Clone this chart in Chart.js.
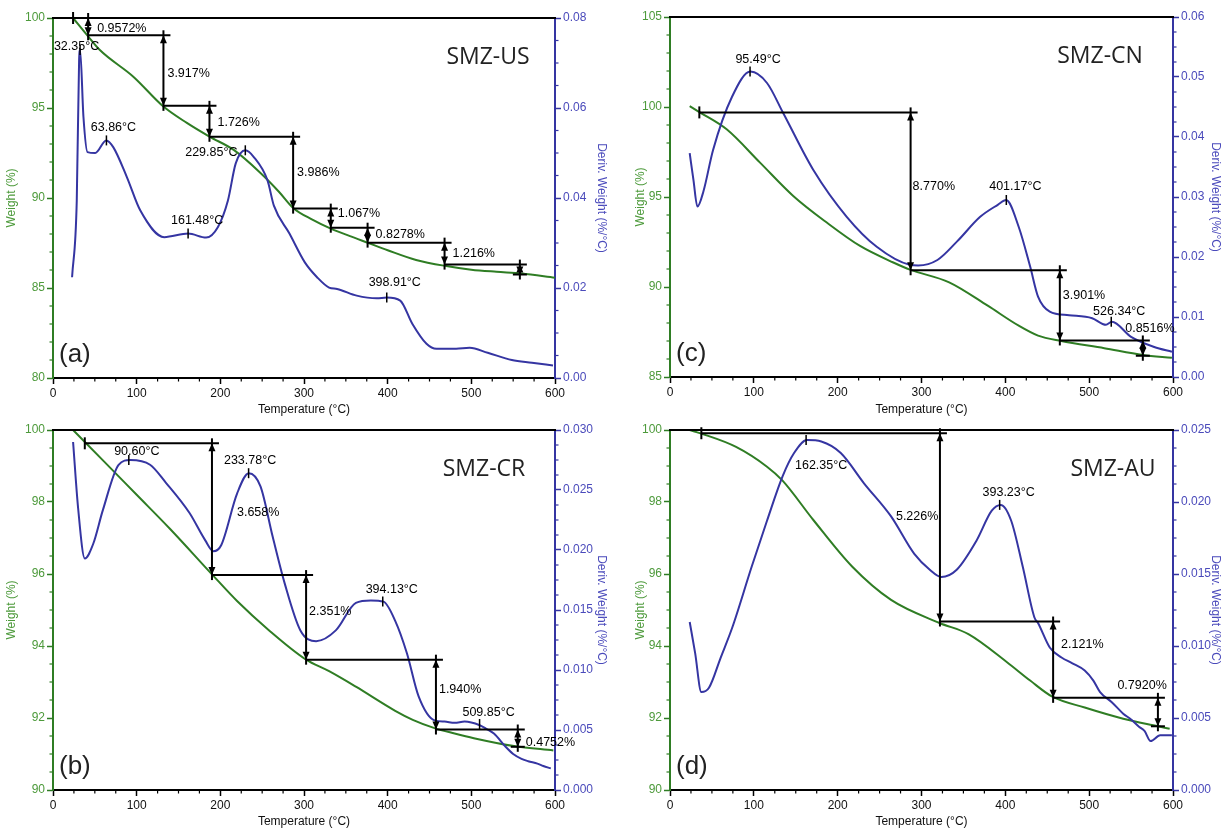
<!DOCTYPE html>
<html>
<head>
<meta charset="utf-8">
<title>TGA / DTG - SMZ samples</title>
<script src="https://cdn.jsdelivr.net/npm/chart.js@4.4.0/dist/chart.umd.min.js"></script>
<style>
  html, body { margin: 0; padding: 0; background: #fff; }
  #wrap { position: relative; width: 1227px; height: 831px; overflow: hidden; background: #fff; }
  #wrap canvas { position: absolute; }
</style>
</head>
<body>
<div id="wrap">
  <canvas id="panelA" width="613" height="417" style="left:0px;top:0px"></canvas>
  <canvas id="panelC" width="614" height="417" style="left:613px;top:0px"></canvas>
  <canvas id="panelB" width="613" height="414" style="left:0px;top:417px"></canvas>
  <canvas id="panelD" width="614" height="414" style="left:613px;top:417px"></canvas>
</div>
<script>
// TGA (weight) + DTG (derivative weight) curves for four SMZ samples

// ---- (a) SMZ-US
const usWeightT = [24, 42, 56, 96, 132, 160, 187, 216, 248, 270, 287, 310, 332, 355, 377, 400, 434, 470, 500, 530, 560, 600];
const usWeight  = [100, 98.98, 98.22, 96.74, 95.08, 94.17, 93.41, 92.67, 91.39, 90.35, 89.45, 88.8, 88.3, 87.88, 87.5, 87.1, 86.56, 86.22, 86.02, 85.9, 85.8, 85.57];
const usDerivT  = [22.8, 28.4, 31.2, 32.4, 36.4, 41.2, 50.4, 63.6, 72, 88.4, 104.4, 133, 161.6, 183, 197, 209, 218.4, 230, 240, 256.4, 264, 282.6, 301, 315.6, 330, 339.6, 363, 387, 399, 415, 429.6, 446.4, 458.4, 481.8, 498, 519.6, 548.4, 572.4, 597.6];
const usDeriv   = [0.0224, 0.0394, 0.0706, 0.0729, 0.058, 0.0502, 0.05, 0.0528, 0.0513, 0.0446, 0.0372, 0.0313, 0.0321, 0.0312, 0.0335, 0.0394, 0.0477, 0.0506, 0.0491, 0.0439, 0.0383, 0.0321, 0.0257, 0.0224, 0.0201, 0.0198, 0.0183, 0.0177, 0.0179, 0.0172, 0.012, 0.0076, 0.0065, 0.0065, 0.0067, 0.0056, 0.004, 0.0034, 0.0028];
const usStepT   = [24, 42, 132, 187, 287, 332, 376, 468, 558];
const usStepW   = [100, 99.04, 95.12, 93.40, 89.41, 88.35, 87.52, 86.30, 85.75];
const usLoss    = [0.9572, 3.917, 1.726, 3.986, 1.067, 0.8278, 1.216];
const usPeakT   = [32.35, 63.86, 161.48, 229.85, 398.91];
const usPeakD   = [0.0729, 0.0528, 0.0321, 0.0506, 0.0179];

// ---- (b) SMZ-CR
const crWeightT = [24, 60, 100, 140, 190, 220, 258, 302, 330, 362, 409, 430, 456, 480, 503, 551, 598];
const crWeight  = [100, 99.15, 98.2, 97.25, 95.99, 95.25, 94.44, 93.63, 93.3, 92.87, 92.2, 91.95, 91.72, 91.57, 91.44, 91.22, 91.1];
const crDerivT  = [24, 30, 38, 48, 59.5, 78.4, 92.5, 116, 135, 163, 182, 191.7, 201, 220, 234, 248, 262.6, 277, 295.7, 314.5, 338, 362, 380, 395, 409, 423, 437, 456, 468, 480, 492, 510, 518, 527, 541, 550, 560, 568, 579, 586, 595];
const crDeriv   = [0.029, 0.0235, 0.0193, 0.0205, 0.0233, 0.0271, 0.0275, 0.0271, 0.0256, 0.0231, 0.0208, 0.0199, 0.0204, 0.0247, 0.0264, 0.0253, 0.0211, 0.0172, 0.0133, 0.0124, 0.0133, 0.0156, 0.0158, 0.0157, 0.0141, 0.0114, 0.0078, 0.0058, 0.0057, 0.0056, 0.0057, 0.0054, 0.0051, 0.0047, 0.0036, 0.003, 0.0026, 0.0024, 0.0022, 0.002, 0.0018];
const crStepT   = [38, 190, 302.5, 457.7, 555.5];
const crStepW   = [99.63, 95.97, 93.62, 91.68, 91.2];
const crLoss    = [3.658, 2.351, 1.940, 0.4752];
const crPeakT   = [90.60, 233.78, 394.13, 509.85];
const crPeakD   = [0.0275, 0.0264, 0.0157, 0.0055];

// ---- (c) SMZ-CN
const cnWeightT = [23.5, 35, 67.6, 107.4, 147, 187, 226.7, 266.4, 287, 333, 379, 416, 439, 466.6, 518, 564, 598.7];
const cnWeight  = [100.05, 99.72, 98.76, 96.91, 95.06, 93.58, 92.28, 91.36, 90.95, 90.26, 88.96, 87.85, 87.3, 87.0, 86.6, 86.22, 86.07];
const cnDerivT  = [23.5, 28, 32.7, 40, 51.3, 74, 96, 115.7, 135, 171, 210.8, 246.6, 286, 296, 319, 342.5, 370, 391, 401, 416, 429.6, 439, 453, 476, 503.6, 520, 527, 550, 577.6, 598.7];
const cnDeriv   = [0.0373, 0.0328, 0.0284, 0.031, 0.0378, 0.0467, 0.0509, 0.049, 0.044, 0.0345, 0.0267, 0.0217, 0.0187, 0.0186, 0.0195, 0.0226, 0.0267, 0.0287, 0.0295, 0.025, 0.0184, 0.0134, 0.0109, 0.0103, 0.0098, 0.0087, 0.0092, 0.0067, 0.005, 0.0042];
const cnStepT   = [35, 287, 465, 564];
const cnStepW   = [99.7, 90.93, 87.03, 86.18];
const cnLoss    = [8.770, 3.901, 0.8516];
const cnPeakT   = [95.49, 401.17, 526.34];
const cnPeakD   = [0.0509, 0.0295, 0.0092];

// ---- (d) SMZ-AU
const auWeightT = [23.5, 37.4, 78.8, 115.7, 134, 171, 217.5, 263.7, 321.5, 356, 402, 429.6, 455.5, 494.7, 540.6, 582, 596];
const auWeight  = [100, 99.9, 99.53, 98.98, 98.6, 97.5, 96.2, 95.28, 94.64, 94.33, 93.55, 93.04, 92.6, 92.29, 91.98, 91.77, 91.7];
const auDerivT  = [23.5, 30, 37.4, 46.5, 60.5, 74.4, 97.4, 115.7, 134.4, 148, 163.5, 180.5, 203.7, 231.4, 263.7, 291.4, 309.9, 323.7, 342, 365.4, 383.8, 394.5, 407, 420.8, 434.6, 439, 453, 467, 480, 494.7, 505, 513, 527, 540.6, 550, 559.4, 566, 573.3, 584.7, 598.7];
const auDeriv   = [0.01167, 0.0095, 0.0068, 0.0071, 0.0092, 0.0113, 0.0155, 0.0187, 0.0218, 0.0234, 0.0243, 0.0242, 0.0234, 0.0213, 0.019, 0.0164, 0.0153, 0.0148, 0.0153, 0.0173, 0.0194, 0.0198, 0.0187, 0.0155, 0.012, 0.0116, 0.0099, 0.0092, 0.0088, 0.0083, 0.0076, 0.0068, 0.0061, 0.0053, 0.0049, 0.0044, 0.0041, 0.0034, 0.0038, 0.0038];
const auStepT   = [37.4, 322, 457, 582];
const auStepW   = [99.91, 94.68, 92.56, 91.77];
const auLoss    = [5.226, 2.121, 0.7920];
const auPeakT   = [162.35, 393.23];
const auPeakD   = [0.0243, 0.0198];

// colours / fonts
const GREEN = '#2f7d24';
const GREEN_TXT = '#4d9a3b';
const BLUE = '#3535a2';
const BLUE_TXT = '#4a4abb';
const FONT = '"Liberation Sans", Arial, Helvetica, sans-serif';

function pts(xs, ys) {
    return xs.map((x, i) => ({ x: x, y: ys[i] }));
}

function seg(ctx, x1, y1, x2, y2) {
    ctx.beginPath();
    ctx.moveTo(x1, y1);
    ctx.lineTo(x2, y2);
    ctx.stroke();
}

// dir -1 = pointing up, 1 = pointing down
function head(ctx, x, y, dir) {
    ctx.beginPath();
    ctx.moveTo(x, y);
    ctx.lineTo(x - 3.5, y - dir * 8);
    ctx.lineTo(x + 3.5, y - dir * 8);
    ctx.closePath();
    ctx.fill();
}

function minorTicks(min, max, minor, major, cb) {
    const n = Math.round((max - min) / minor);
    const every = Math.round(major / minor);
    for (let i = 0; i <= n; i++) {
        if (i % every === 0) continue;
        cb(min + i * minor);
    }
}

// frame line, minor ticks, step arrows, peak markers, captions
function tgaOverlay(p) {
    return {
        id: 'tgaOverlay',
        afterDatasetsDraw(chart) {
            const ctx = chart.ctx, a = chart.chartArea;
            const sx = chart.scales.x, sy = chart.scales.y, sd = chart.scales.y1;
            const X = t => sx.getPixelForValue(t);
            const Y = w => sy.getPixelForValue(w);
            ctx.save();

            // top frame
            ctx.strokeStyle = '#000';
            ctx.lineWidth = 2;
            seg(ctx, a.left - 1, a.top, a.right + 1, a.top);

            // minor ticks
            ctx.lineWidth = 1.2;
            minorTicks(0, 600, 25, 100, v => seg(ctx, X(v), a.bottom, X(v), a.bottom + 3.5));
            ctx.strokeStyle = GREEN;
            minorTicks(p.wMin, p.wMax, p.wMinor, p.wStep, v => seg(ctx, a.left - 3.5, Y(v), a.left, Y(v)));
            ctx.strokeStyle = BLUE;
            minorTicks(0, p.dMax, p.dMinor, p.dStep, v => {
                const y = sd.getPixelForValue(v);
                seg(ctx, a.right, y, a.right + 3.5, y);
            });

            // weight-loss steps
            ctx.strokeStyle = '#000';
            ctx.fillStyle = '#000';
            ctx.lineWidth = 2;
            ctx.font = '12.5px ' + FONT;
            ctx.textAlign = 'left';
            ctx.textBaseline = 'middle';
            const T = p.stepT, W = p.stepW;
            seg(ctx, X(T[0]), Y(W[0]) - 6, X(T[0]), Y(W[0]) + 6);
            for (let i = 1; i < T.length; i++) {
                const xa = X(T[i - 1]), xb = X(T[i]);
                const y0 = Y(W[i - 1]), y1 = Y(W[i]);
                seg(ctx, xa, y0, xb + 7, y0);
                seg(ctx, xb, y0 - 5, xb, y1 + 5);
                head(ctx, xb, y0, -1);
                head(ctx, xb, y1, 1);
                if (i === T.length - 1) seg(ctx, xb - 7, y1, xb + 7, y1);
                const loss = p.loss[i - 1];
                if (loss !== undefined) {
                    const off = p.lossOff[i - 1];
                    ctx.fillText(loss.toPrecision(4) + '%', xb + off[0], (y0 + y1) / 2 + off[1]);
                }
            }

            // DTG peak markers
            ctx.lineWidth = 1.5;
            ctx.textAlign = 'center';
            p.peakT.forEach((t, k) => {
                const px = X(t), py = sd.getPixelForValue(p.peakD[k]);
                seg(ctx, px, py - 5, px, py + 5);
                const off = p.peakOff[k];
                ctx.fillText(t.toFixed(2) + '°C', px + off[0], py + off[1]);
            });

            // sample name + panel letter
            ctx.fillStyle = '#222';
            ctx.font = '23px "Open Sans", "Noto Sans", sans-serif';
            ctx.fillText(p.name, a.right - p.nameDx, a.top + 39);
            ctx.textAlign = 'left';
            ctx.font = '26px ' + FONT;
            ctx.fillText(p.letter, a.left + 6, a.bottom - 23);
            ctx.restore();
        }
    };
}

function makePanel(id, p) {
    const tickFont = { family: FONT, size: 12 };
    return new Chart(document.getElementById(id), {
        type: 'line',
        data: {
            datasets: [
                { data: pts(p.derivT, p.deriv), yAxisID: 'y1', borderColor: BLUE, borderWidth: 2,
                  pointRadius: 0, cubicInterpolationMode: 'monotone', fill: false },
                { data: pts(p.weightT, p.weight), yAxisID: 'y', borderColor: GREEN, borderWidth: 2,
                  pointRadius: 0, cubicInterpolationMode: 'monotone', fill: false }
            ]
        },
        options: {
            responsive: false,
            animation: false,
            layout: { padding: { top: p.top, left: 0, right: 0, bottom: 0 } },
            plugins: { legend: { display: false }, tooltip: { enabled: false } },
            scales: {
                x: {
                    type: 'linear', min: 0, max: 600,
                    ticks: { stepSize: 100, color: '#111', font: tickFont, maxRotation: 0, padding: 2 },
                    grid: { drawOnChartArea: false, color: '#000', tickLength: 6, tickWidth: 1.5 },
                    border: { color: '#000', width: 2 },
                    title: { display: true, text: 'Temperature (°C)', color: '#111', font: tickFont,
                             padding: { top: 0, bottom: p.xTitlePad } },
                    afterFit: s => { s.height = p.xHeight; }
                },
                y: {
                    position: 'left', min: p.wMin, max: p.wMax,
                    ticks: { stepSize: p.wStep, color: GREEN_TXT, font: tickFont, padding: 2 },
                    grid: { drawOnChartArea: false, color: GREEN, tickLength: 6, tickWidth: 1.5 },
                    border: { color: GREEN, width: 2 },
                    title: { display: true, text: 'Weight (%)', color: GREEN_TXT, font: tickFont,
                             padding: { top: p.yTitlePad, bottom: 0 } },
                    afterFit: s => { s.width = p.leftW; }
                },
                y1: {
                    position: 'right', min: 0, max: p.dMax,
                    ticks: { stepSize: p.dStep, color: BLUE_TXT, font: tickFont, padding: 2,
                             callback: v => v.toFixed(p.dDec) },
                    grid: { drawOnChartArea: false, color: BLUE, tickLength: 6, tickWidth: 1.5 },
                    border: { color: BLUE, width: 2 },
                    title: { display: true, text: 'Deriv. Weight (%/°C)', color: BLUE_TXT, font: tickFont,
                             padding: { top: 4, bottom: 0 } },
                    afterFit: s => { s.width = p.rightW; }
                }
            }
        },
        plugins: [tgaOverlay(p)]
    });
}

makePanel('panelA', {
    name: 'SMZ-US', letter: '(a)', nameDx: 67,
    weightT: usWeightT, weight: usWeight, derivT: usDerivT, deriv: usDeriv,
    stepT: usStepT, stepW: usStepW, loss: usLoss, peakT: usPeakT, peakD: usPeakD,
    lossOff: [[9, 2], [4, 2.5], [8, 1], [4, 0], [7, -4.6], [8, -1], [8, 0]],
    peakOff: [[-3.5, -3], [7, -13], [9, -13], [-34, 2], [8, -15]],
    wMin: 80, wMax: 100, wStep: 5, wMinor: 1,
    dMax: 0.08, dStep: 0.02, dMinor: 0.005, dDec: 2,
    top: 18, xHeight: 39, leftW: 53, rightW: 58, xTitlePad: 0, yTitlePad: 4
});

makePanel('panelC', {
    name: 'SMZ-CN', letter: '(c)', nameDx: 73,
    weightT: cnWeightT, weight: cnWeight, derivT: cnDerivT, deriv: cnDeriv,
    stepT: cnStepT, stepW: cnStepW, loss: cnLoss, peakT: cnPeakT, peakD: cnPeakD,
    lossOff: [[2, -5], [3, -10], [-17.6, -20]],
    peakOff: [[8, -12], [9, -13], [8, -10]],
    wMin: 85, wMax: 105, wStep: 5, wMinor: 1,
    dMax: 0.06, dStep: 0.01, dMinor: 0.0025, dDec: 2,
    top: 17, xHeight: 40, leftW: 57, rightW: 54, xTitlePad: 0, yTitlePad: 20
});

makePanel('panelB', {
    name: 'SMZ-CR', letter: '(b)', nameDx: 71,
    weightT: crWeightT, weight: crWeight, derivT: crDerivT, deriv: crDeriv,
    stepT: crStepT, stepW: crStepW, loss: crLoss, peakT: crPeakT, peakD: crPeakD,
    lossOff: [[25, 3], [3, -6], [3, -5], [8, 4]],
    peakOff: [[8, -8], [1.5, -13], [9, -12], [9, -11]],
    wMin: 90, wMax: 100, wStep: 2, wMinor: 0.5,
    dMax: 0.03, dStep: 0.005, dMinor: 0.00125, dDec: 3,
    top: 13, xHeight: 41, leftW: 53, rightW: 58, xTitlePad: 2, yTitlePad: 4
});

makePanel('panelD', {
    name: 'SMZ-AU', letter: '(d)', nameDx: 60,
    weightT: auWeightT, weight: auWeight, derivT: auDerivT, deriv: auDeriv,
    stepT: auStepT, stepW: auStepW, loss: auLoss, peakT: auPeakT, peakD: auPeakD,
    lossOff: [[-44, -11], [8, -15], [-40.5, -27]],
    peakOff: [[15, 25], [9, -12]],
    wMin: 90, wMax: 100, wStep: 2, wMinor: 0.5,
    dMax: 0.025, dStep: 0.005, dMinor: 0.00125, dDec: 3,
    top: 13, xHeight: 41, leftW: 57, rightW: 54, xTitlePad: 2, yTitlePad: 20
});
</script>
</body>
</html>
